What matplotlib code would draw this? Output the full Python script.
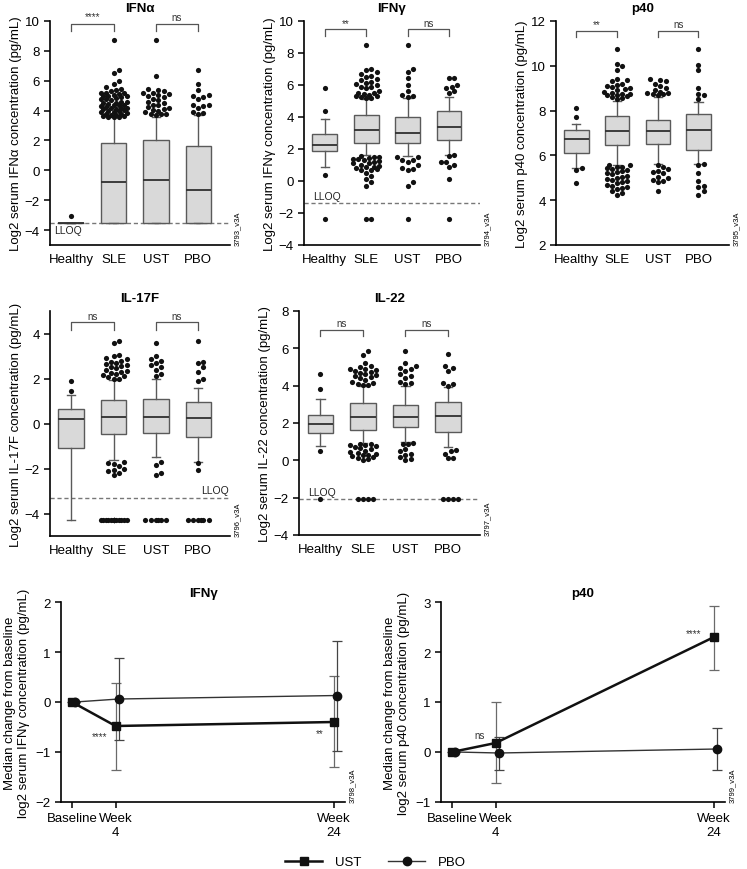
import numpy as np
import matplotlib
matplotlib.use('Agg')
import matplotlib.pyplot as plt
from matplotlib.lines import Line2D

plt.rcParams['font.family'] = ['Liberation Sans', 'DejaVu Sans']
plt.rcParams['font.size'] = 9

GROUPS = ['Healthy', 'SLE', 'UST', 'PBO']

# ---------------- IFN-alpha ----------------
IFNA_Q1 = [-3.5, -3.5, -3.5, -3.5]
IFNA_MED = [-3.5, -0.75, -0.65, -1.3]
IFNA_Q3 = [-3.5, 1.8, 2.0, 1.6]
IFNA_WLO = [-3.5, -3.5, -3.5, -3.5]
IFNA_WHI = [-3.5, 3.6, 3.6, 3.7]
IFNA_FLIERS = [
    [-3.05],
    [3.6, 3.6, 3.6, 3.65, 3.65, 3.7, 3.7, 3.75, 3.8, 3.85, 3.9, 3.9, 4.0, 4.0, 4.05, 4.1, 4.1,
     4.15, 4.2, 4.2, 4.25, 4.3, 4.35, 4.4, 4.4, 4.45, 4.5, 4.5, 4.55, 4.6, 4.7, 4.75, 4.8, 4.85,
     4.9, 4.95, 5.0, 5.0, 5.05, 5.1, 5.15, 5.2, 5.2, 5.3, 5.4, 5.45, 5.6, 5.75, 6.0, 6.5, 6.7, 8.75],
    [3.7, 3.75, 3.75, 3.8, 3.9, 4.0, 4.05, 4.1, 4.2, 4.25, 4.35, 4.4, 4.5, 4.6, 4.7, 4.8, 4.9,
     5.0, 5.05, 5.1, 5.15, 5.2, 5.3, 5.4, 5.45, 6.35, 8.75],
    [3.8, 3.85, 3.9, 4.2, 4.3, 4.35, 4.4, 4.8, 4.9, 5.0, 5.05, 5.4, 5.75, 6.7],
]
IFNA_LLOQ = -3.5

# ---------------- IFN-gamma ----------------
IFNG_Q1 = [1.85, 2.4, 2.35, 2.55]
IFNG_MED = [2.25, 3.2, 3.0, 3.4]
IFNG_Q3 = [2.95, 4.15, 4.0, 4.35]
IFNG_WLO = [0.85, 1.6, 1.55, 1.6]
IFNG_WHI = [3.85, 5.1, 5.2, 5.25]
IFNG_FLIERS = [
    [-2.4, 0.35, 4.4, 5.8],
    [5.2, 5.2, 5.25, 5.3, 5.3, 5.4, 5.45, 5.5, 5.5, 5.6, 5.8, 5.85, 5.9, 6.0, 6.05, 6.1, 6.2,
     6.3, 6.35, 6.5, 6.55, 6.7, 6.8, 6.95, 7.0, 8.5,
     1.55, 1.5, 1.5, 1.45, 1.4, 1.35, 1.3, 1.25, 1.2, 1.15, 1.1, 1.0, 0.95, 0.9, 0.85, 0.8,
     0.75, 0.7, 0.7, 0.5, 0.3, 0.1, -0.05, -0.3, -2.4, -2.4],
    [5.25, 5.3, 5.4, 5.6, 6.0, 6.45, 6.8, 7.0, 8.5,
     1.5, 1.5, 1.3, 1.3, 1.2, 1.0, 0.8, 0.75, 0.7, -0.05, -0.3, -2.4],
    [5.5, 5.6, 5.8, 5.9, 6.0, 6.45, 6.45,
     1.6, 1.55, 1.2, 1.2, 1.0, 0.9, 0.15, -2.4],
]
IFNG_LLOQ = -1.4

# ---------------- p40 ----------------
P40_Q1 = [6.1, 6.45, 6.5, 6.25]
P40_MED = [6.75, 7.1, 7.1, 7.15]
P40_Q3 = [7.15, 7.75, 7.6, 7.85]
P40_WLO = [5.45, 5.55, 5.6, 5.6]
P40_WHI = [7.4, 8.45, 8.6, 8.4]
P40_FLIERS = [
    [4.75, 5.35, 5.45, 7.7, 8.1],
    [8.5, 8.55, 8.6, 8.65, 8.7, 8.7, 8.75, 8.75, 8.8, 8.85, 8.9, 8.95, 9.0, 9.05, 9.1, 9.15,
     9.2, 9.3, 9.35, 9.4, 9.8, 10.0, 10.1, 10.75,
     5.55, 5.55, 5.5, 5.5, 5.45, 5.4, 5.35, 5.3, 5.25, 5.2, 5.15, 5.1, 5.05, 5.0, 4.95, 4.9,
     4.85, 4.8, 4.75, 4.7, 4.65, 4.6, 4.55, 4.5, 4.4, 4.3, 4.25],
    [8.7, 8.75, 8.75, 8.8, 8.8, 8.85, 8.9, 9.0, 9.1, 9.2, 9.3, 9.35, 9.4,
     5.55, 5.5, 5.4, 5.3, 5.25, 5.2, 5.05, 5.0, 4.9, 4.85, 4.8, 4.4],
    [8.5, 8.7, 8.75, 9.0, 9.8, 10.05, 10.75,
     5.6, 5.55, 5.2, 4.85, 4.65, 4.6, 4.4, 4.25],
]

# ---------------- IL-17F ----------------
IL17F_Q1 = [-1.1, -0.45, -0.4, -0.6]
IL17F_MED = [0.2, 0.3, 0.3, 0.25]
IL17F_Q3 = [0.65, 1.05, 1.1, 0.95]
IL17F_WLO = [-4.3, -1.6, -1.5, -1.7]
IL17F_WHI = [1.25, 1.95, 2.0, 1.6]
IL17F_FLIERS = [
    [1.45, 1.9],
    [2.0, 2.0, 2.05, 2.1, 2.15, 2.2, 2.25, 2.3, 2.35, 2.4, 2.45, 2.5, 2.55, 2.6, 2.65, 2.7,
     2.75, 2.8, 2.85, 2.9, 3.0, 3.05, 3.6, 3.65,
     -1.7, -1.75, -1.8, -1.9, -2.0, -2.05, -2.1, -2.2, -2.3] + [-4.3] * 16,
    [2.1, 2.2, 2.4, 2.5, 2.6, 2.7, 2.8, 2.85, 3.0, 3.6,
     -1.7, -1.85, -2.2, -2.3] + [-4.3] * 6,
    [1.9, 2.0, 2.3, 2.5, 2.7, 2.75, 3.65, -1.75, -2.05] + [-4.3] * 6,
]
IL17F_LLOQ = -3.3

# ---------------- IL-22 ----------------
IL22_Q1 = [1.45, 1.6, 1.8, 1.5]
IL22_MED = [1.95, 2.3, 2.3, 2.35]
IL22_Q3 = [2.45, 3.05, 2.95, 3.1]
IL22_WLO = [0.75, 0.95, 1.0, 0.7]
IL22_WHI = [3.3, 4.0, 4.0, 3.95]
IL22_FLIERS = [
    [-2.05, 0.5, 3.8, 4.6],
    [4.05, 4.05, 4.1, 4.15, 4.2, 4.3, 4.4, 4.45, 4.5, 4.55, 4.6, 4.7, 4.75, 4.8, 4.85, 4.9,
     4.9, 5.0, 5.05, 5.2, 5.65, 5.85,
     0.9, 0.85, 0.8, 0.8, 0.75, 0.7, 0.65, 0.6, 0.5, 0.45, 0.4, 0.35, 0.3, 0.3, 0.25, 0.2,
     0.15, 0.05, 0.0] + [-2.05] * 4,
    [4.1, 4.15, 4.2, 4.4, 4.5, 4.6, 4.8, 4.9, 4.95, 5.05, 5.2, 5.85,
     0.95, 0.9, 0.85, 0.6, 0.5, 0.35, 0.3, 0.2, 0.05, 0.0],
    [4.0, 4.1, 4.15, 4.8, 4.95, 5.05, 5.7, 0.55, 0.5, 0.35, 0.15, 0.1] + [-2.05] * 4,
]
IL22_LLOQ = -2.05

# ---------------- longitudinal ----------------
WEEKS = [0, 4, 24]
WEEK_LABELS = ['Baseline', 'Week\n4', 'Week\n24']
IFNG_UST = [0, -0.48, -0.40]
IFNG_UST_LO = [0, -1.35, -1.30]
IFNG_UST_HI = [0, 0.38, 0.52]
IFNG_PBO = [0, 0.06, 0.13]
IFNG_PBO_LO = [0, -0.75, -0.97]
IFNG_PBO_HI = [0, 0.88, 1.23]
P40_UST = [0, 0.18, 2.30]
P40_UST_LO = [0, -0.62, 1.65]
P40_UST_HI = [0, 1.00, 2.93]
P40_PBO = [0, -0.02, 0.06]
P40_PBO_LO = [0, -0.35, -0.35]
P40_PBO_HI = [0, 0.30, 0.48]

W, H = 747, 870
fig = plt.figure(figsize=(W / 100, H / 100), dpi=100)


def add_ax(x0, y0, x1, y1):
    return fig.add_axes([x0 / W, 1 - y1 / H, (x1 - x0) / W, (y1 - y0) / H])


BOX_EDGE = '#5a5a5a'
BOX_FILL = '#d9d9d9'


def swarm(ax, xc, ys, dot_px=5.2, max_half_px=13.0):
    trans = ax.transData
    inv = trans.inverted()
    xc_px = trans.transform((xc, 0))[0]
    ys = np.asarray(ys, float)
    order = np.argsort(ys)
    res = np.zeros(len(ys))
    placed = []
    step = dot_px * 0.5
    cands = [0.0]
    k = 1
    while k * step <= max_half_px:
        cands += [k * step, -k * step]
        k += 1
    for i in order:
        ypx = trans.transform((xc, ys[i]))[1]
        best = None
        bestc, bestscore = 0.0, -1
        for c in cands:
            md = min([np.hypot(c - px, ypx - py) for px, py in placed], default=1e9)
            if md >= dot_px:
                best = c
                break
            if md > bestscore:
                bestscore, bestc = md, c
        if best is None:
            best = bestc
        placed.append((best, ypx))
        res[i] = inv.transform((xc_px + best, ypx))[0]
    return res


def style(ax):
    for s in ['top', 'right']:
        ax.spines[s].set_visible(False)
    for s in ['left', 'bottom']:
        ax.spines[s].set_linewidth(1.2)
    ax.tick_params(direction='out', length=4, width=1.1, labelsize=9.5)


def box_panel(ax, title, ylabel, q1, med, q3, wlo, whi, fliers, ylim, yticks, tag,
              sig, lloq=None, lloq_text=None):
    pos = [1, 2, 3, 4]
    ax.set_xlim(0.5, 4.75)
    ax.set_ylim(*ylim)
    style(ax)
    stats = []
    for i in range(4):
        stats.append(dict(med=med[i], q1=q1[i], q3=q3[i], whislo=wlo[i], whishi=whi[i],
                          fliers=[]))
    ax.bxp(stats, positions=pos, widths=0.6, patch_artist=True, showfliers=False,
           boxprops=dict(facecolor=BOX_FILL, edgecolor=BOX_EDGE, linewidth=1.0),
           medianprops=dict(color='#303030', linewidth=1.3),
           whiskerprops=dict(color=BOX_EDGE, linewidth=1.0),
           capprops=dict(color=BOX_EDGE, linewidth=1.0), capwidths=0.2)
    for i in range(4):
        xs = swarm(ax, pos[i], fliers[i])
        ax.scatter(xs, fliers[i], s=14, color='#111111', zorder=4, linewidths=0)
    ax.set_xticks(pos)
    ax.set_xticklabels(GROUPS)
    ax.tick_params(axis='x', length=0, pad=6)
    ax.set_yticks(yticks)
    ax.set_title(title, fontweight='bold', fontsize=9.5, pad=7)
    ax.set_ylabel(ylabel, fontsize=9.5, labelpad=2)
    if lloq is not None:
        ax.axhline(lloq, color='#777777', linestyle=(0, (3, 2)), linewidth=1.0, zorder=1)
    if lloq_text is not None:
        lx, ly, ha = lloq_text
        ax.text(lx, ly, 'LLOQ', fontsize=7.5, ha=ha, va='center', color='#222222')
    (ytop, yleg, ytxt, labels) = sig
    for (a, b), lab in zip([(1, 2), (3, 4)], labels):
        ax.plot([a, a, b, b], [yleg, ytop, ytop, yleg], color='#555555', linewidth=0.9,
                clip_on=False)
        ax.text((a + b) / 2, ytxt, lab, ha='center', va='center', fontsize=7,
                color='#333333', clip_on=False)
    ax.text(1.02, 0.0, tag, transform=ax.transAxes, rotation=90, fontsize=5.5,
            ha='left', va='bottom')


ax1 = add_ax(50, 22, 230, 246)
box_panel(ax1, 'IFNα', 'Log2 serum IFNα concentration (pg/mL)', IFNA_Q1, IFNA_MED, IFNA_Q3,
          IFNA_WLO, IFNA_WHI, IFNA_FLIERS, (-5, 10), range(-4, 11, 2), '3793_v3A',
          (9.8, 9.33, 10.3, ['****', 'ns']), IFNA_LLOQ, (0.6, -4.0, 'left'))
ax2 = add_ax(304, 22, 480, 246)
box_panel(ax2, 'IFNγ', 'Log2 serum IFNγ concentration (pg/mL)', IFNG_Q1, IFNG_MED, IFNG_Q3,
          IFNG_WLO, IFNG_WHI, IFNG_FLIERS, (-4, 10), range(-4, 11, 2), '3794_v3A',
          (9.5, 9.06, 9.9, ['**', 'ns']), IFNG_LLOQ, (0.72, -0.95, 'left'))
ax3 = add_ax(556, 22, 729, 246)
box_panel(ax3, 'p40', 'Log2 serum p40 concentration (pg/mL)', P40_Q1, P40_MED, P40_Q3,
          P40_WLO, P40_WHI, P40_FLIERS, (2, 12), range(2, 13, 2), '3795_v3A',
          (11.55, 11.28, 11.85, ['**', 'ns']))
ax4 = add_ax(50, 312, 230, 537)
box_panel(ax4, 'IL-17F', 'Log2 serum IL-17F concentration (pg/mL)', IL17F_Q1, IL17F_MED,
          IL17F_Q3, IL17F_WLO, IL17F_WHI, IL17F_FLIERS, (-5, 5), range(-4, 5, 2), '3796_v3A',
          (4.5, 4.15, 4.8, ['ns', 'ns']), IL17F_LLOQ, (4.72, -2.95, 'right'))
ax5 = add_ax(299, 312, 480, 536)
box_panel(ax5, 'IL-22', 'Log2 serum IL-22 concentration (pg/mL)', IL22_Q1, IL22_MED, IL22_Q3,
          IL22_WLO, IL22_WHI, IL22_FLIERS, (-4, 8), range(-4, 9, 2), '3797_v3A',
          (7.0, 6.65, 7.35, ['ns', 'ns']), IL22_LLOQ, (0.72, -1.7, 'left'))

DODGE = 0.3


def line_panel(ax, title, ylabel, ust, ust_lo, ust_hi, pbo, pbo_lo, pbo_hi, ylim, yticks,
               tag, notes):
    style(ax)
    ax.set_xlim(-1, 25)
    ax.set_ylim(*ylim)
    wk = np.array(WEEKS, float)
    u = np.array(ust)
    p = np.array(pbo)
    ax.errorbar(wk, u, yerr=[u - np.array(ust_lo), np.array(ust_hi) - u], fmt='none',
                ecolor='#6a6a6a', elinewidth=0.9, capsize=3.5, capthick=0.9, zorder=2)
    ax.errorbar(wk + DODGE, p, yerr=[p - np.array(pbo_lo), np.array(pbo_hi) - p], fmt='none',
                ecolor='#444444', elinewidth=0.9, capsize=3.5, capthick=0.9, zorder=2)
    ax.plot(wk + DODGE, p, color='#333333', linewidth=1.0, marker='o', markersize=6,
            markerfacecolor='#111111', markeredgecolor='#111111', zorder=3)
    ax.plot(wk, u, color='#111111', linewidth=1.8, marker='s', markersize=6,
            markerfacecolor='#111111', markeredgecolor='#111111', zorder=4)
    ax.set_xticks(WEEKS)
    ax.set_xticklabels(WEEK_LABELS)
    ax.set_yticks(yticks)
    ax.set_title(title, fontweight='bold', fontsize=9.5, pad=4)
    ax.set_ylabel(ylabel, fontsize=9.5, labelpad=4)
    for (x, y, t) in notes:
        ax.text(x, y, t, ha='center', va='center', fontsize=7, color='#333333')
    ax.text(1.015, 0.0, tag, transform=ax.transAxes, rotation=90, fontsize=5.5,
            ha='left', va='bottom')


ax6 = add_ax(61, 603, 345, 803)
line_panel(ax6, 'IFNγ', 'Median change from baseline\nlog2 serum IFNγ concentration (pg/mL)',
           IFNG_UST, IFNG_UST_LO, IFNG_UST_HI, IFNG_PBO, IFNG_PBO_LO, IFNG_PBO_HI,
           (-2, 2), range(-2, 3), '3798_v3A', [(2.5, -0.68, '****'), (22.7, -0.62, '**')])
ax7 = add_ax(441, 603, 725, 803)
line_panel(ax7, 'p40', 'Median change from baseline\nlog2 serum p40 concentration (pg/mL)',
           P40_UST, P40_UST_LO, P40_UST_HI, P40_PBO, P40_PBO_LO, P40_PBO_HI,
           (-1, 3), range(-1, 4), '3799_v3A', [(2.5, 0.34, 'ns'), (22.1, 2.38, '****')])

handles = [Line2D([], [], color='#111111', linewidth=1.8, marker='s', markersize=6),
           Line2D([], [], color='#333333', linewidth=1.0, marker='o', markersize=6,
                  markerfacecolor='#111111', markeredgecolor='#111111')]
fig.legend(handles, ['UST', 'PBO'], loc='center', bbox_to_anchor=(0.503, 7 / H),
           ncol=2, frameon=False, handlelength=2.8, columnspacing=2.0, fontsize=9.5,
           handletextpad=1.0)

fig.savefig('out.png', dpi=100)
